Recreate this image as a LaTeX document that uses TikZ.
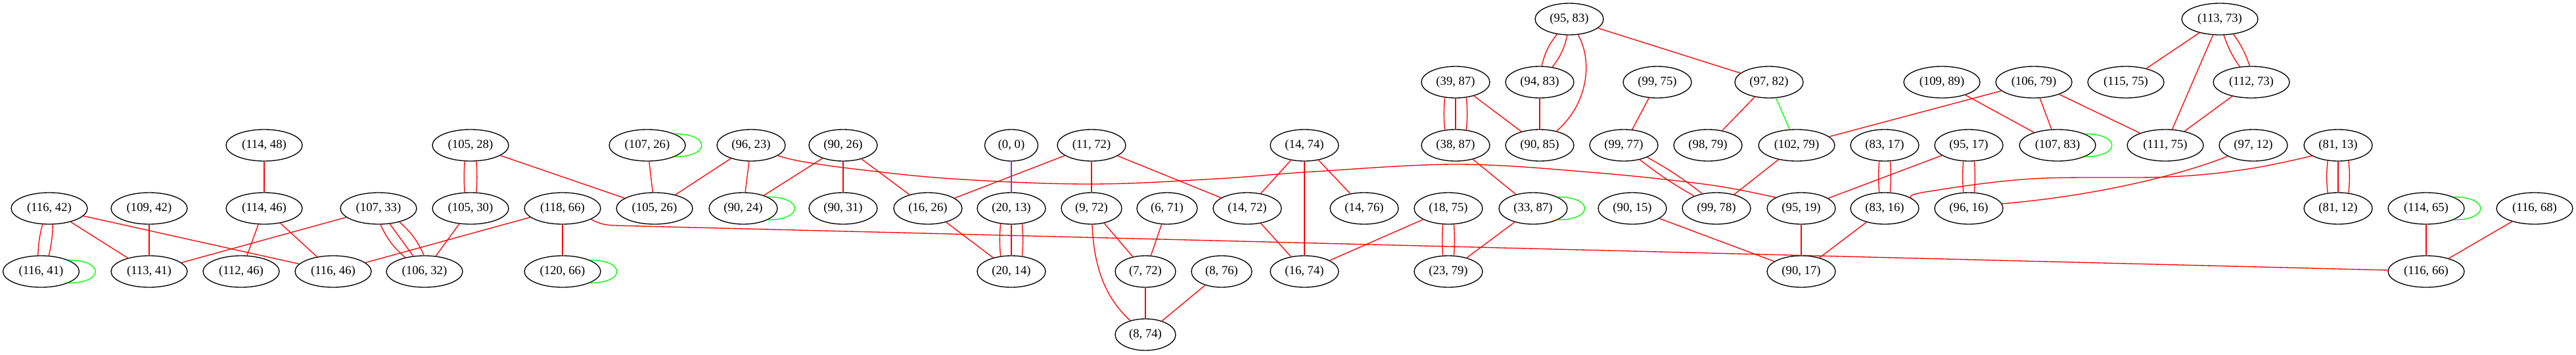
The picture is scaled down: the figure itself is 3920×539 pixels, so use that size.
\documentclass[tikz,border=0pt]{standalone}
\usepackage{fontspec}
\setmainfont{Liberation Serif}
\usetikzlibrary{shapes.geometric}
\definecolor{gvred}{RGB}{255,0,0}
\definecolor{gvgreen}{RGB}{0,255,0}
\definecolor{gvpurple}{RGB}{160,32,240}
\newcommand{\nfont}{\fontsize{18.7}{22}\selectfont}
\newcommand{\gloop}[1]{\draw[eg] (#1.north east) .. controls +(55,0) and +(55,0) .. (#1.south east);}
\begin{document}
\begin{tikzpicture}[x=1pt,y=1pt,
 nd/.style={draw=black, ellipse, line width=1.33pt, inner sep=0pt, minimum height=48pt, font=\nfont},
 wA/.style={nd, minimum width=116pt},
 wB/.style={nd, minimum width=104pt},
 wC/.style={nd, minimum width=92pt},
 wD/.style={nd, minimum width=81pt},
 er/.style={draw=gvred, line width=1.33pt},
 eg/.style={draw=gvgreen, line width=1.33pt},
 ep/.style={draw=gvpurple, line width=1.33pt}
]
\fill[white] (0,0) rectangle (3920,-539);
\useasboundingbox (0,0) rectangle (3920,-539);

% nodes
\node[wA] (n116x42) at (75,-317) {(116, 42)};
\node[wA] (n109x42) at (227,-317) {(109, 42)};
\node[wA] (n114x48) at (402,-221) {(114, 48)};
\node[wA] (n114x46) at (402,-317) {(114, 46)};
\node[wA] (n107x33) at (576,-317) {(107, 33)};
\node[wA] (n116x41) at (62.5,-413) {(116, 41)};
\node[wA] (n113x41) at (227,-413) {(113, 41)};
\node[wA] (n112x46) at (367,-413) {(112, 46)};
\node[wA] (n116x46) at (507,-413) {(116, 46)};
\node[wA] (n106x32) at (646,-413) {(106, 32)};
\node[wA] (n105x28) at (716,-221) {(105, 28)};
\node[wA] (n105x30) at (716,-317) {(105, 30)};
\node[wA] (n118x66) at (856,-317) {(118, 66)};
\node[wA] (n120x66) at (856,-413) {(120, 66)};
\node[wA] (n107x26) at (985,-221) {(107, 26)};
\node[wA] (n105x26) at (996,-317) {(105, 26)};
\node[wB] (n96x23) at (1143,-221) {(96, 23)};
\node[wB] (n90x24) at (1131,-317) {(90, 24)};
\node[wB] (n90x26) at (1283,-221) {(90, 26)};
\node[wB] (n90x31) at (1283,-317) {(90, 31)};
\node[wB] (n16x26) at (1412,-317) {(16, 26)};
\node[wD] (n0x0) at (1539,-221) {(0, 0)};
\node[wB] (n20x13) at (1539,-317) {(20, 13)};
\node[wB] (n20x14) at (1539,-413) {(20, 14)};
\node[wB] (n11x72) at (1661,-221) {(11, 72)};
\node[wC] (n9x72) at (1661,-317) {(9, 72)};
\node[wC] (n6x71) at (1776,-317) {(6, 71)};
\node[wC] (n7x72) at (1743,-413) {(7, 72)};
\node[wC] (n8x76) at (1859,-413) {(8, 76)};
\node[wC] (n8x74) at (1743,-509) {(8, 74)};
\node[wB] (n14x72) at (1898,-317) {(14, 72)};
\node[wB] (n14x74) at (1985,-221) {(14, 74)};
\node[wB] (n16x74) at (1985,-413) {(16, 74)};
\node[wB] (n14x76) at (2076,-317) {(14, 76)};
\node[wB] (n18x75) at (2204,-317) {(18, 75)};
\node[wB] (n23x79) at (2204,-413) {(23, 79)};
\node[wB] (n39x87) at (2215,-125) {(39, 87)};
\node[wB] (n38x87) at (2215,-221) {(38, 87)};
\node[wB] (n33x87) at (2333,-317) {(33, 87)};
\node[wB] (n95x83) at (2388,-29) {(95, 83)};
\node[wB] (n94x83) at (2343,-125) {(94, 83)};
\node[wB] (n90x85) at (2343,-221) {(90, 85)};
\node[wB] (n99x75) at (2522,-125) {(99, 75)};
\node[wB] (n99x77) at (2471,-221) {(99, 77)};
\node[wB] (n90x15) at (2484,-317) {(90, 15)};
\node[wB] (n99x78) at (2612,-317) {(99, 78)};
\node[wB] (n98x79) at (2599,-221) {(98, 79)};
\node[wB] (n97x82) at (2692,-125) {(97, 82)};
\node[wA] (n102x79) at (2734,-221) {(102, 79)};
\node[wB] (n95x19) at (2741,-317) {(95, 19)};
\node[wB] (n90x17) at (2741,-413) {(90, 17)};
\node[wB] (n83x17) at (2868,-221) {(83, 17)};
\node[wB] (n83x16) at (2868,-317) {(83, 16)};
\node[wB] (n95x17) at (2996,-221) {(95, 17)};
\node[wB] (n96x16) at (2996,-317) {(96, 16)};
\node[wA] (n109x89) at (2955,-125) {(109, 89)};
\node[wA] (n106x79) at (3095,-125) {(106, 79)};
\node[wA] (n107x83) at (3131,-221) {(107, 83)};
\node[wA] (n115x75) at (3235,-125) {(115, 75)};
\node[wA] (n113x73) at (3378,-29) {(113, 73)};
\node[wA] (n112x73) at (3426,-125) {(112, 73)};
\node[wA] (n111x75) at (3295,-221) {(111, 75)};
\node[wB] (n97x12) at (3429,-221) {(97, 12)};
\node[wB] (n81x13) at (3558,-221) {(81, 13)};
\node[wB] (n81x12) at (3558,-317) {(81, 12)};
\node[wA] (n114x65) at (3692,-317) {(114, 65)};
\node[wA] (n116x68) at (3857,-317) {(116, 68)};
\node[wA] (n116x66) at (3692,-413) {(116, 66)};

% single red edges
\draw[er] (n114x48) -- (n114x46);
\draw[er] (n116x42) -- (n113x41);
\draw[er] (n116x42) -- (n116x46);
\draw[er] (n109x42) -- (n113x41);
\draw[er] (n107x33) -- (n113x41);
\draw[er] (n114x46) -- (n112x46);
\draw[er] (n114x46) -- (n116x46);
\draw[er] (n105x30) -- (n106x32);
\draw[er] (n118x66) -- (n116x46);
\draw[er] (n105x28) -- (n105x26);
\draw[er] (n107x26) -- (n105x26);
\draw[er] (n96x23) -- (n105x26);
\draw[er] (n96x23) -- (n90x24);
\draw[er] (n90x26) -- (n90x24);
\draw[er] (n90x26) -- (n90x31);
\draw[er] (n90x26) -- (n16x26);
\draw[er] (n118x66) -- (n120x66);
\draw[er] (n11x72) -- (n16x26);
\draw[er] (n11x72) -- (n9x72);
\draw[er] (n11x72) -- (n14x72);
\draw[er] (n16x26) -- (n20x14);
\draw[er] (n9x72) -- (n7x72);
\draw[er] (n6x71) -- (n7x72);
\draw[er] (n14x72) -- (n16x74);
\draw[er] (n14x74) -- (n14x72);
\draw[er] (n14x74) -- (n16x74);
\draw[er] (n14x74) -- (n14x76);
\draw[er] (n7x72) -- (n8x74);
\draw[er] (n8x76) -- (n8x74);
\draw[er] (n95x83) -- (n97x82);
\draw[er] (n39x87) -- (n90x85);
\draw[er] (n94x83) -- (n90x85);
\draw[er] (n99x75) -- (n99x77);
\draw[er] (n38x87) -- (n33x87);
\draw[er] (n97x82) -- (n98x79);
\draw[er] (n18x75) -- (n16x74);
\draw[er] (n33x87) -- (n23x79);
\draw[er] (n90x15) -- (n90x17);
\draw[er] (n102x79) -- (n99x78);
\draw[er] (n106x79) -- (n102x79);
\draw[er] (n109x89) -- (n107x83);
\draw[er] (n106x79) -- (n107x83);
\draw[er] (n106x79) -- (n111x75);
\draw[er] (n95x17) -- (n95x19);
\draw[er] (n95x19) -- (n90x17);
\draw[er] (n83x16) -- (n90x17);
\draw[er] (n113x73) -- (n115x75);
\draw[er] (n113x73) -- (n111x75);
\draw[er] (n112x73) -- (n111x75);
\draw[er] (n114x65) -- (n116x66);
\draw[er] (n116x68) -- (n116x66);

% curved red edges
\draw[er] (n9x72) .. controls (1665,-420) and (1690,-460) .. (n8x74);
\draw[er] (n95x83) .. controls (2425,-95) and (2415,-160) .. (n90x85);
\draw[er] plot[smooth, tension=0.6] coordinates {(n96x23.-21) (1217,-245) (1300,-257) (1450,-272) (1657,-280) (1850,-272) (2000,-261) (2218,-250) (2420,-262) (2600,-281) (n95x19.157)};
\draw[er] (n118x66.-21) .. controls (912,-340) and (918,-342) .. (935,-343) -- (n116x66.178);
\draw[er] plot[smooth, tension=0.6] coordinates {(n83x16.22) (2930,-292) (3091,-272) (3300,-269) (3421,-257) (n81x13.202)};
\draw[er] (n96x16.8) .. controls (3200,-297) and (3330,-262) .. (n97x12.203);

% multi-edges
\draw[er] (n116x42.-113) to[bend right=6] (n116x41.101);
\draw[er] (n116x42.-78) to[bend left=6] (n116x41.64);

\draw[er] (n107x33.-83) to[bend right=12] (n106x32.144);
\draw[er] (n107x33) -- (n106x32);
\draw[er] (n107x33.-33) to[bend left=12] (n106x32.92);

\draw[er] (n105x28.-110) to[bend right=4] (n105x30.110);
\draw[er] (n105x28.-70) to[bend left=4] (n105x30.70);

\draw[er] (n20x13.-125) to[bend right=5] (n20x14.125);
\draw[er] (n20x13) -- (n20x14);
\draw[er] (n20x13.-55) to[bend left=5] (n20x14.55);

\draw[er] (n95x83.-129) to[bend right=12] (n94x83.83);
\draw[er] (n95x83.-97) to[bend left=12] (n94x83.50);

\draw[er] (n39x87.-125) to[bend right=5] (n38x87.125);
\draw[er] (n39x87) -- (n38x87);
\draw[er] (n39x87.-55) to[bend left=5] (n38x87.55);

\draw[er] (n99x77.-42) to[bend right=4] (n99x78.151);
\draw[er] (n99x77.-27) to[bend left=4] (n99x78.134);

\draw[er] (n18x75.-109) to[bend right=4] (n23x79.109);
\draw[er] (n18x75.-71) to[bend left=4] (n23x79.71);

\draw[er] (n83x17.-109) to[bend right=4] (n83x16.109);
\draw[er] (n83x17.-71) to[bend left=4] (n83x16.71);

\draw[er] (n95x17.-109) to[bend right=4] (n96x16.109);
\draw[er] (n95x17.-71) to[bend left=4] (n96x16.71);

\draw[er] (n113x73.-76) to[bend right=8] (n112x73.127);
\draw[er] (n113x73.-48) to[bend left=8] (n112x73.96);

\draw[er] (n81x13.-124) to[bend right=6] (n81x12.124);
\draw[er] (n81x13) -- (n81x12);
\draw[er] (n81x13.-56) to[bend left=6] (n81x12.56);

% green and purple
\draw[eg] (n97x82) -- (n102x79);
\draw[ep] (n0x0) -- (n20x13);
\gloop{n116x41}
\gloop{n107x26}
\gloop{n90x24}
\gloop{n120x66}
\gloop{n33x87}
\gloop{n107x83}
\gloop{n114x65}
\end{tikzpicture}
\end{document}
